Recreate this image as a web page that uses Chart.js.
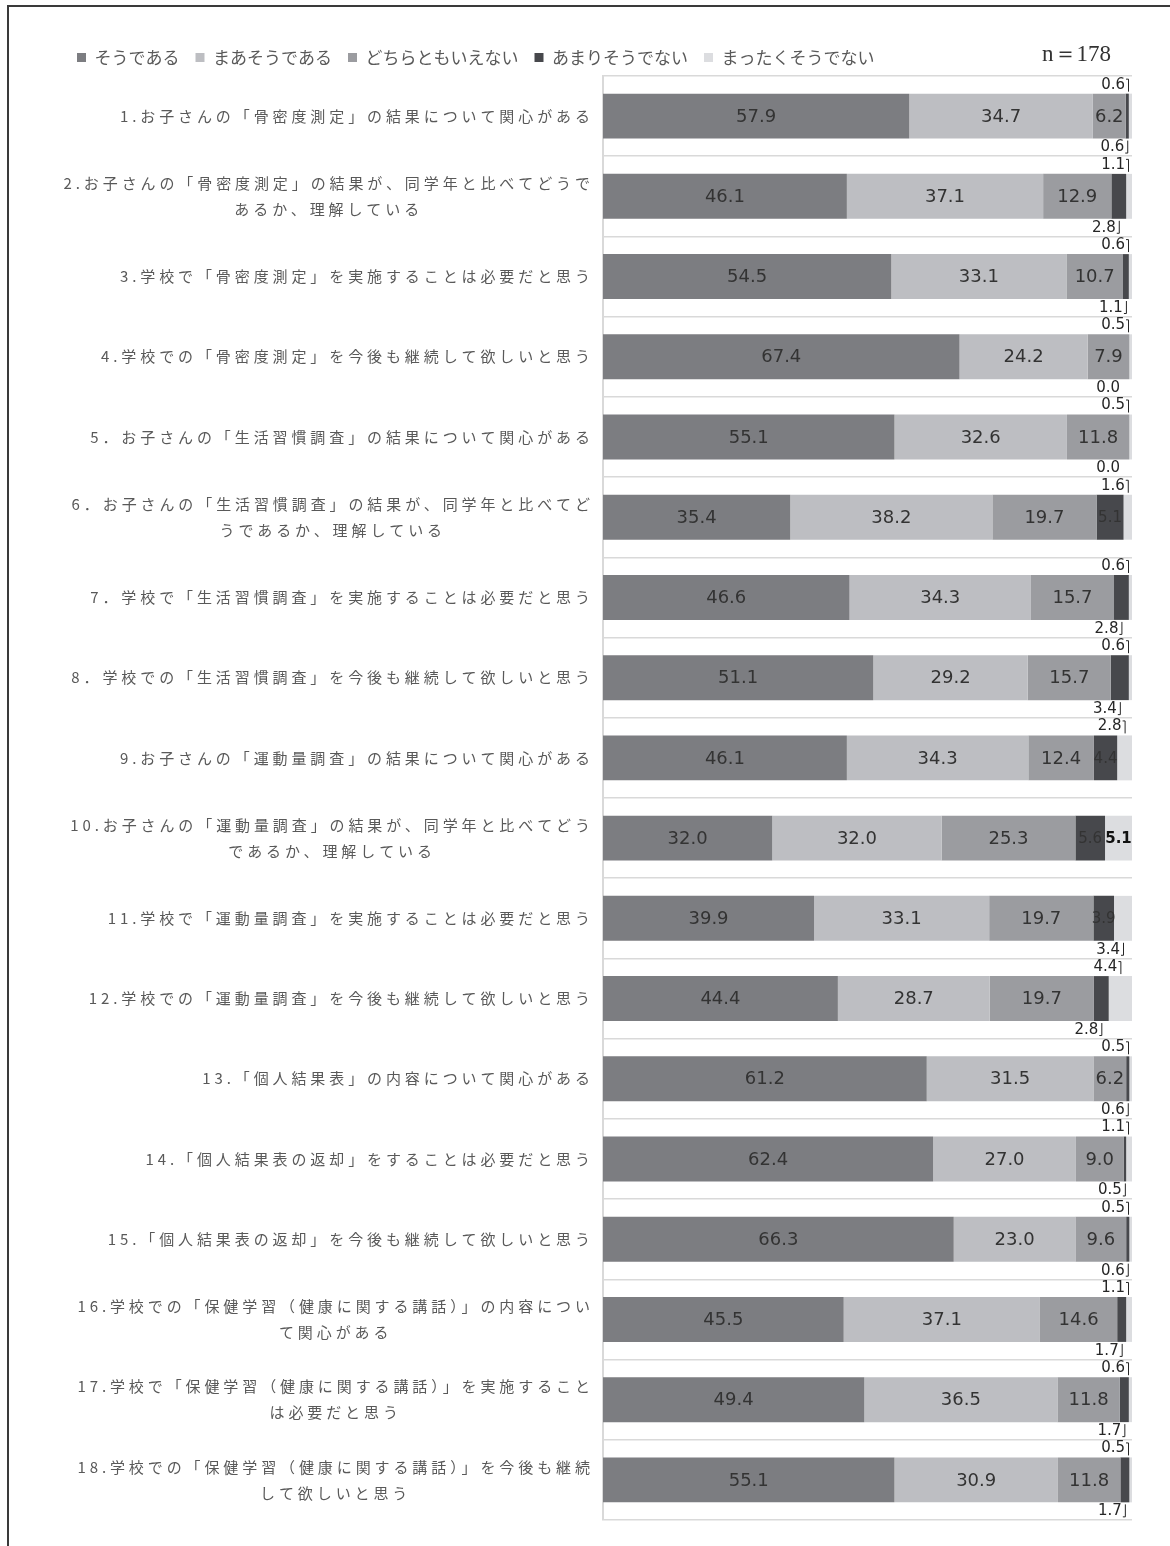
<!DOCTYPE html>
<html lang="ja">
<head>
<meta charset="utf-8">
<title>アンケート結果</title>
<script src="https://cdn.jsdelivr.net/npm/chart.js@4.4.1/dist/chart.umd.min.js"></script>
<style>
  html, body { margin: 0; padding: 0; background: #fff; }
  #chart { display: block; }
</style>
</head>
<body>
<canvas id="chart" width="1170" height="1546"></canvas>
<script>
// question labels (multi-line ones are arrays)
const questions = [
  '1.お子さんの「骨密度測定」の結果について関心がある',
  ['2.お子さんの「骨密度測定」の結果が、同学年と比べてどうで', 'あるか、理解している'],
  '3.学校で「骨密度測定」を実施することは必要だと思う',
  '4.学校での「骨密度測定」を今後も継続して欲しいと思う',
  '5．お子さんの「生活習慣調査」の結果について関心がある',
  ['6．お子さんの「生活習慣調査」の結果が、同学年と比べてど', 'うであるか、理解している'],
  '7．学校で「生活習慣調査」を実施することは必要だと思う',
  '8．学校での「生活習慣調査」を今後も継続して欲しいと思う',
  '9.お子さんの「運動量調査」の結果について関心がある',
  ['10.お子さんの「運動量調査」の結果が、同学年と比べてどう', 'であるか、理解している'],
  '11.学校で「運動量調査」を実施することは必要だと思う',
  '12.学校での「運動量調査」を今後も継続して欲しいと思う',
  '13.「個人結果表」の内容について関心がある',
  '14.「個人結果表の返却」をすることは必要だと思う',
  '15.「個人結果表の返却」を今後も継続して欲しいと思う',
  ['16.学校での「保健学習（健康に関する講話）」の内容につい', 'て関心がある'],
  ['17.学校で「保健学習（健康に関する講話）」を実施すること', 'は必要だと思う'],
  ['18.学校での「保健学習（健康に関する講話）」を今後も継続', 'して欲しいと思う']
];

const seriesNames = ['そうである', 'まあそうである', 'どちらともいえない', 'あまりそうでない', 'まったくそうでない'];

// percentages per question
const sou     = [57.9, 46.1, 54.5, 67.4, 55.1, 35.4, 46.6, 51.1, 46.1, 32.0, 39.9, 44.4, 61.2, 62.4, 66.3, 45.5, 49.4, 55.1];
const maa     = [34.7, 37.1, 33.1, 24.2, 32.6, 38.2, 34.3, 29.2, 34.3, 32.0, 33.1, 28.7, 31.5, 27.0, 23.0, 37.1, 36.5, 30.9];
const dochira = [6.2, 12.9, 10.7, 7.9, 11.8, 19.7, 15.7, 15.7, 12.4, 25.3, 19.7, 19.7, 6.2, 9.0, 9.6, 14.6, 11.8, 11.8];
const amari   = [0.6, 2.8, 1.1, 0.0, 0.0, 5.1, 2.8, 3.4, 4.4, 5.6, 3.9, 2.8, 0.6, 0.5, 0.6, 1.7, 1.7, 1.7];
const mattaku = [0.6, 1.1, 0.6, 0.5, 0.5, 1.6, 0.6, 0.6, 2.8, 5.1, 3.4, 4.4, 0.5, 1.1, 0.5, 1.1, 0.6, 0.5];

const colors = ['#7c7d81', '#bdbec2', '#9b9ca0', '#47484c', '#dcdde0'];
const sampleSize = 'n＝178';

const allSeries = [sou, maa, dochira, amari, mattaku];

// draws frame, question labels, n= text and bar value labels
const labelPlugin = {
  id: 'labels',
  beforeDraw(chart) {
    const ctx = chart.ctx;
    ctx.save();
    ctx.strokeStyle = '#3a3a3a';
    ctx.lineWidth = 2;
    ctx.beginPath();
    ctx.moveTo(8, chart.height);
    ctx.lineTo(8, 6);
    ctx.lineTo(chart.width, 6);
    ctx.stroke();
    ctx.restore();
  },
  afterDatasetsDraw(chart) {
    const ctx = chart.ctx;
    const area = chart.chartArea;
    ctx.save();
    ctx.textBaseline = 'middle';
    chart.data.datasets.forEach((ds, di) => {
      chart.getDatasetMeta(di).data.forEach((bar, i) => {
        const v = ds.data[i];
        const txt = v.toFixed(1);
        const left = Math.min(bar.base, bar.x);
        const right = Math.max(bar.base, bar.x);
        const cx = (left + right) / 2;
        const half = bar.height / 2;
        if (di < 3) {
          ctx.font = '18px "DejaVu Sans"';
          ctx.fillStyle = '#333';
          ctx.textAlign = 'center';
          ctx.fillText(txt, cx, bar.y + 1);
          return;
        }
        if ((di === 3 && v >= 3.5) || (di === 4 && v >= 5)) {
          ctx.font = (di === 4 ? 'bold ' : '') + '15px "DejaVu Sans"';
          ctx.fillStyle = di === 4 ? '#111' : '#333';
          ctx.textAlign = 'center';
          ctx.fillText(txt, cx, bar.y + 1);
          return;
        }
        // small values sit above / below the bar with a corner mark
        const onTop = di === 4 && i !== 10;
        const ty = onTop ? bar.y - half - 9 : bar.y + half + 9;
        const ax = Math.min(cx, area.right - 4);
        ctx.font = '15px "DejaVu Sans"';
        ctx.fillStyle = '#262626';
        ctx.textAlign = 'right';
        ctx.strokeStyle = '#262626';
        ctx.lineWidth = 1;
        if (v === 0) {
          ctx.fillText(txt, ax - 8, ty);
          return;
        }
        ctx.fillText(txt, ax - 3, ty);
        ctx.beginPath();
        if (onTop) {
          ctx.moveTo(ax - 2, ty - 5.5);
          ctx.lineTo(ax + 0.5, ty - 5.5);
          ctx.lineTo(ax + 0.5, ty + 7);
        } else {
          ctx.moveTo(ax + 0.5, ty - 7);
          ctx.lineTo(ax + 0.5, ty + 5.5);
          ctx.lineTo(ax - 2, ty + 5.5);
        }
        ctx.stroke();
      });
    });
    ctx.restore();
  },
  afterDraw(chart) {
    const ctx = chart.ctx;
    const area = chart.chartArea;
    const yScale = chart.scales.y;
    ctx.save();
    // question labels: block right aligned, lines centred inside the block
    const spacing = 3.9;
    ctx.font = '15px "Noto Sans CJK JP"';
    ctx.letterSpacing = spacing + 'px';
    ctx.fillStyle = '#595959';
    ctx.textBaseline = 'middle';
    ctx.textAlign = 'center';
    const rightEdge = area.left - 15 + spacing;
    questions.forEach((q, i) => {
      const lines = Array.isArray(q) ? q : [q];
      const widths = lines.map(l => ctx.measureText(l).width);
      const blockW = Math.max(...widths);
      const cx = rightEdge - blockW / 2;
      const y = yScale.getPixelForValue(i);
      const lh = 26;
      lines.forEach((l, k) => {
        ctx.fillText(l, cx + spacing / 2, y + (k - (lines.length - 1) / 2) * lh);
      });
    });
    ctx.letterSpacing = '0px';
    // sample size
    ctx.font = '23px "Liberation Serif"';
    ctx.fillStyle = '#333';
    ctx.textAlign = 'right';
    ctx.fillText(sampleSize, 1111, 55);
    ctx.restore();
  }
};

const ctx = document.getElementById('chart').getContext('2d');
new Chart(ctx, {
  type: 'bar',
  data: {
    labels: questions,
    datasets: allSeries.map((d, k) => ({
      label: seriesNames[k],
      data: d,
      backgroundColor: colors[k],
      borderWidth: 0,
      barPercentage: 0.56,
      categoryPercentage: 1
    }))
  },
  options: {
    indexAxis: 'y',
    responsive: false,
    animation: false,
    layout: { padding: { left: 61, right: 38, top: 33, bottom: 26 } },
    scales: {
      x: { stacked: true, min: 0, max: 100, display: false },
      y: {
        stacked: true,
        ticks: { display: false },
        grid: { color: '#d9d9d9', lineWidth: 1.5, drawTicks: false, offset: true },
        border: { color: '#d9d9d9', width: 2 },
        afterFit: s => { s.width = 542; }
      }
    },
    plugins: {
      legend: {
        position: 'top',
        align: 'start',
        labels: {
          boxWidth: 9,
          boxHeight: 9,
          padding: 16,
          color: '#595959',
          font: { family: '"Noto Sans CJK JP"', size: 17 }
        }
      },
      tooltip: { enabled: false }
    }
  },
  plugins: [labelPlugin]
});
</script>
</body>
</html>
